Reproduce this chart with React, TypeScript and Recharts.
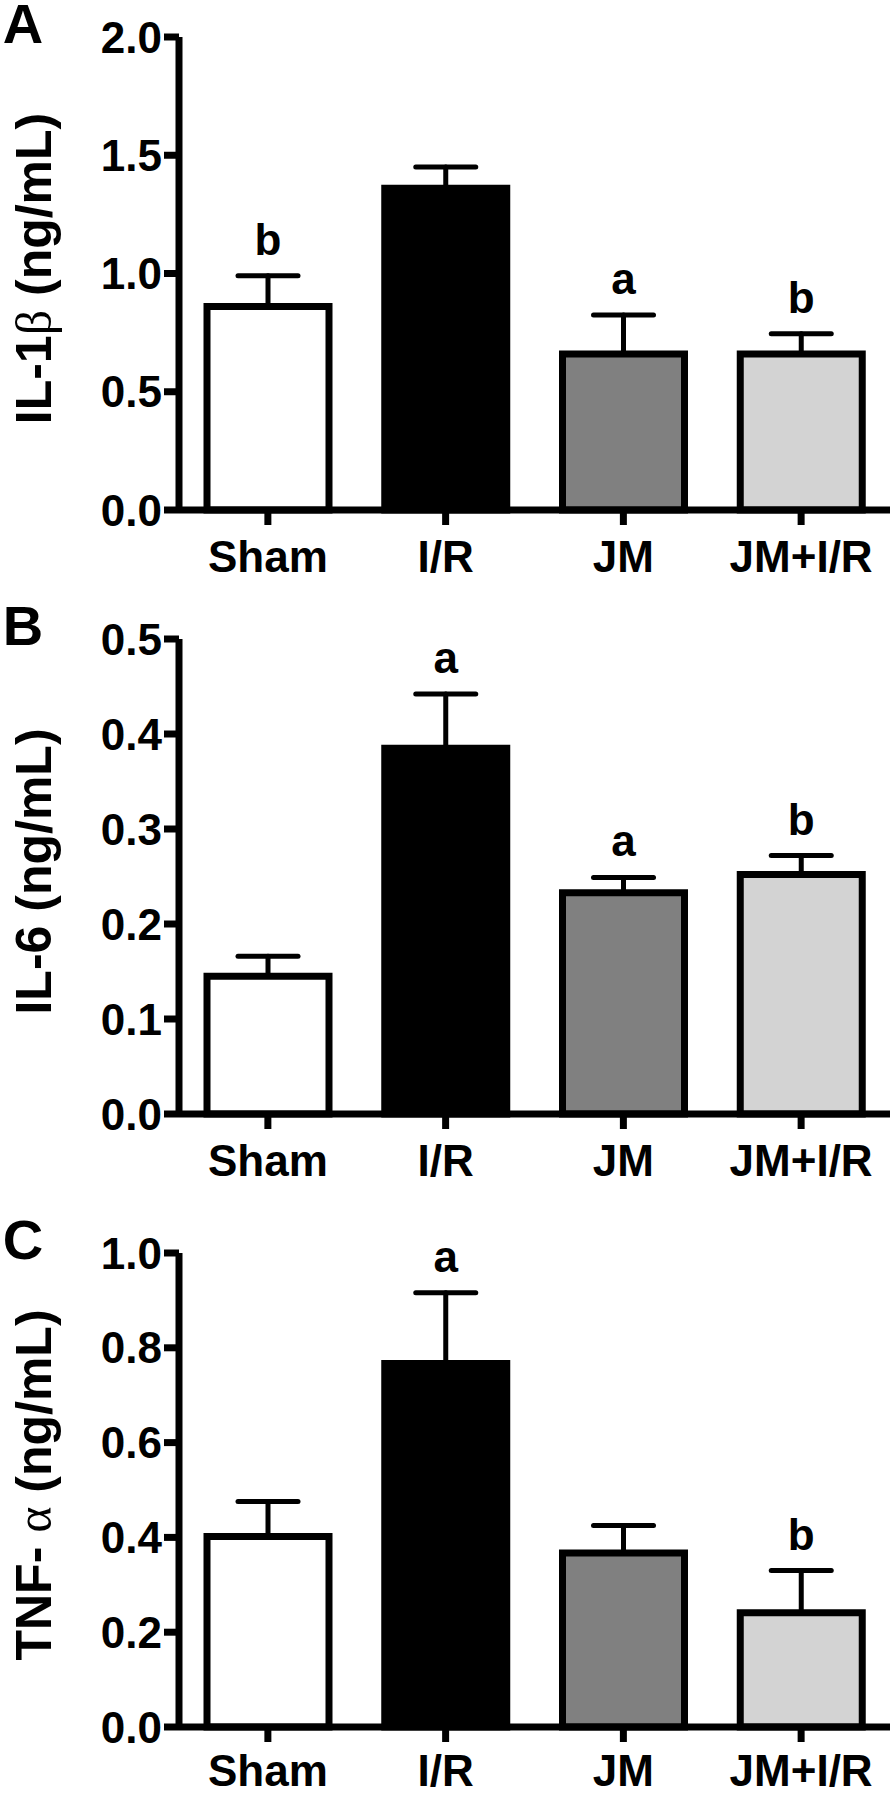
import React from 'react';
import { BarChart, Bar, XAxis, YAxis, ErrorBar, Cell, LabelList } from 'recharts';

const FONT = '"Liberation Sans", Arial, Helvetica, sans-serif';
const SERIF = '"Liberation Serif", "DejaVu Serif", serif';

const categories = ['Sham', 'I/R', 'JM', 'JM+I/R'];
const fills = ['#ffffff', '#000000', '#808080', '#d3d3d3'];

const il1bMean = [0.86, 1.36, 0.66, 0.66];
const il1bErr = [0.13, 0.09, 0.165, 0.085];
const il1bSig = ['b', '', 'a', 'b'];
const il1bTicks = [0, 0.5, 1.0, 1.5, 2.0];

const il6Mean = [0.145, 0.385, 0.233, 0.252];
const il6Err = [0.021, 0.057, 0.016, 0.02];
const il6Sig = ['', 'a', 'a', 'b'];
const il6Ticks = [0, 0.1, 0.2, 0.3, 0.4, 0.5];

const tnfMean = [0.402, 0.767, 0.367, 0.241];
const tnfErr = [0.074, 0.149, 0.058, 0.089];
const tnfSig = ['', 'a', '', 'b'];
const tnfTicks = [0, 0.2, 0.4, 0.6, 0.8, 1.0];

type PanelProps = {
  letter: string;
  mean: number[];
  err: number[];
  sig: string[];
  ticks: number[];
  titleA: string;
  titleGreek: string;
  titleB: string;
  plotTop: number;
  plotBottom: number;
  xTickMargin?: number;
};

const axisStyle = { stroke: '#000', strokeWidth: 7 };
const tickFont = { fill: '#000', fontSize: 44, fontWeight: 700, fontFamily: FONT };

function Panel({ letter, mean, err, sig, ticks, titleA, titleGreek, titleB, plotTop, plotBottom, xTickMargin = 15.5 }: PanelProps) {
  const data = categories.map((c, i) => ({
    name: c,
    mean: mean[i],
    err: err[i],
    errRange: [0, err[i]],
    sig: sig[i],
  }));
  const topPad = 40;
  const xH = 90;
  const plotH = plotBottom - plotTop;
  const height = topPad + plotH + xH;
  const max = ticks[ticks.length - 1];

  const renderTitle = (p: any) => {
    const vb = p && p.viewBox;
    const cy = vb && typeof vb.y === 'number' ? vb.y + vb.height / 2 - 5 : topPad + plotH / 2 - 5;
    const bx = 51;
    return (
      <text
        x={bx}
        y={cy}
        transform={`rotate(-90, ${bx}, ${cy})`}
        textAnchor="middle"
        fontFamily={FONT}
        fontWeight={700}
        fontSize={50}
        fill="#000"
      >
        <tspan>{titleA}</tspan>
        <tspan fontFamily={SERIF} fontWeight={400}>{titleGreek}</tspan>
        <tspan>{titleB}</tspan>
      </text>
    );
  };

  const renderSig = (p: any) => {
    const { x, y, width, height: h, index } = p;
    const d = data[index];
    if (!d || !d.sig) return null;
    const capY = Number(y) - (d.err * Number(h)) / d.mean;
    return (
      <text
        key={`sig-${index}`}
        x={Number(x) + Number(width) / 2}
        y={capY - 21}
        textAnchor="middle"
        fontFamily={FONT}
        fontWeight={700}
        fontSize={44}
        fill="#000"
      >
        {d.sig}
      </text>
    );
  };

  return (
    <div style={{ position: 'absolute', left: 0, top: plotTop - topPad, width: 894, height }}>
      <BarChart
        width={894}
        height={height}
        data={data}
        margin={{ top: topPad, right: 4, bottom: 0, left: 0 }}
      >
        <XAxis
          dataKey="name"
          height={xH}
          interval={0}
          tickSize={15}
          tickMargin={xTickMargin}
          axisLine={axisStyle}
          tickLine={axisStyle}
          tick={tickFont}
        />
        <YAxis
          width={179}
          type="number"
          domain={[0, max]}
          ticks={ticks}
          interval={0}
          tickFormatter={(v: number) => v.toFixed(1)}
          tickSize={15}
          tickMargin={2}
          axisLine={axisStyle}
          tickLine={axisStyle}
          tick={tickFont}
          label={{ content: renderTitle }}
        />
        <Bar
          dataKey="mean"
          barSize={122}
          stroke="#000"
          strokeWidth={7}
          isAnimationActive={false}
        >
          {data.map((d, i) => (
            <Cell key={d.name} fill={fills[i]} />
          ))}
          <ErrorBar
            dataKey="errRange"
            direction="y"
            width={30}
            stroke="#000"
            strokeWidth={5}
            strokeLinecap="round"
            isAnimationActive={false}
          />
          <LabelList dataKey="sig" content={renderSig} />
        </Bar>
      </BarChart>
      <svg
        style={{ position: 'absolute', left: 0, top: -40, overflow: 'visible' }}
        width={100}
        height={140}
      >
        <text
          x={23}
          y={40 + topPad - 14 + 20}
          textAnchor="middle"
          fontFamily={FONT}
          fontWeight={700}
          fontSize={56}
          fill="#000"
        >
          {letter}
        </text>
      </svg>
    </div>
  );
}

export default function App() {
  return (
    <div style={{ position: 'relative', width: 894, height: 1794, background: '#fff', overflow: 'hidden' }}>
      <style>{'body{margin:0;background:#fff;}'}</style>
      <Panel
        letter="A"
        mean={il1bMean}
        err={il1bErr}
        sig={il1bSig}
        ticks={il1bTicks}
        titleA="IL-1"
        titleGreek="β"
        titleB=" (ng/mL)"
        plotTop={36.5}
        plotBottom={509.5}
      />
      <Panel
        letter="B"
        mean={il6Mean}
        err={il6Err}
        sig={il6Sig}
        ticks={il6Ticks}
        titleA="IL-6"
        titleGreek=""
        titleB=" (ng/mL)"
        plotTop={639}
        plotBottom={1114}
      />
      <Panel
        letter="C"
        mean={tnfMean}
        err={tnfErr}
        sig={tnfSig}
        ticks={tnfTicks}
        titleA="TNF- "
        titleGreek="α"
        titleB=" (ng/mL)"
        plotTop={1253}
        plotBottom={1727}
        xTickMargin={12.5}
      />
    </div>
  );
}
